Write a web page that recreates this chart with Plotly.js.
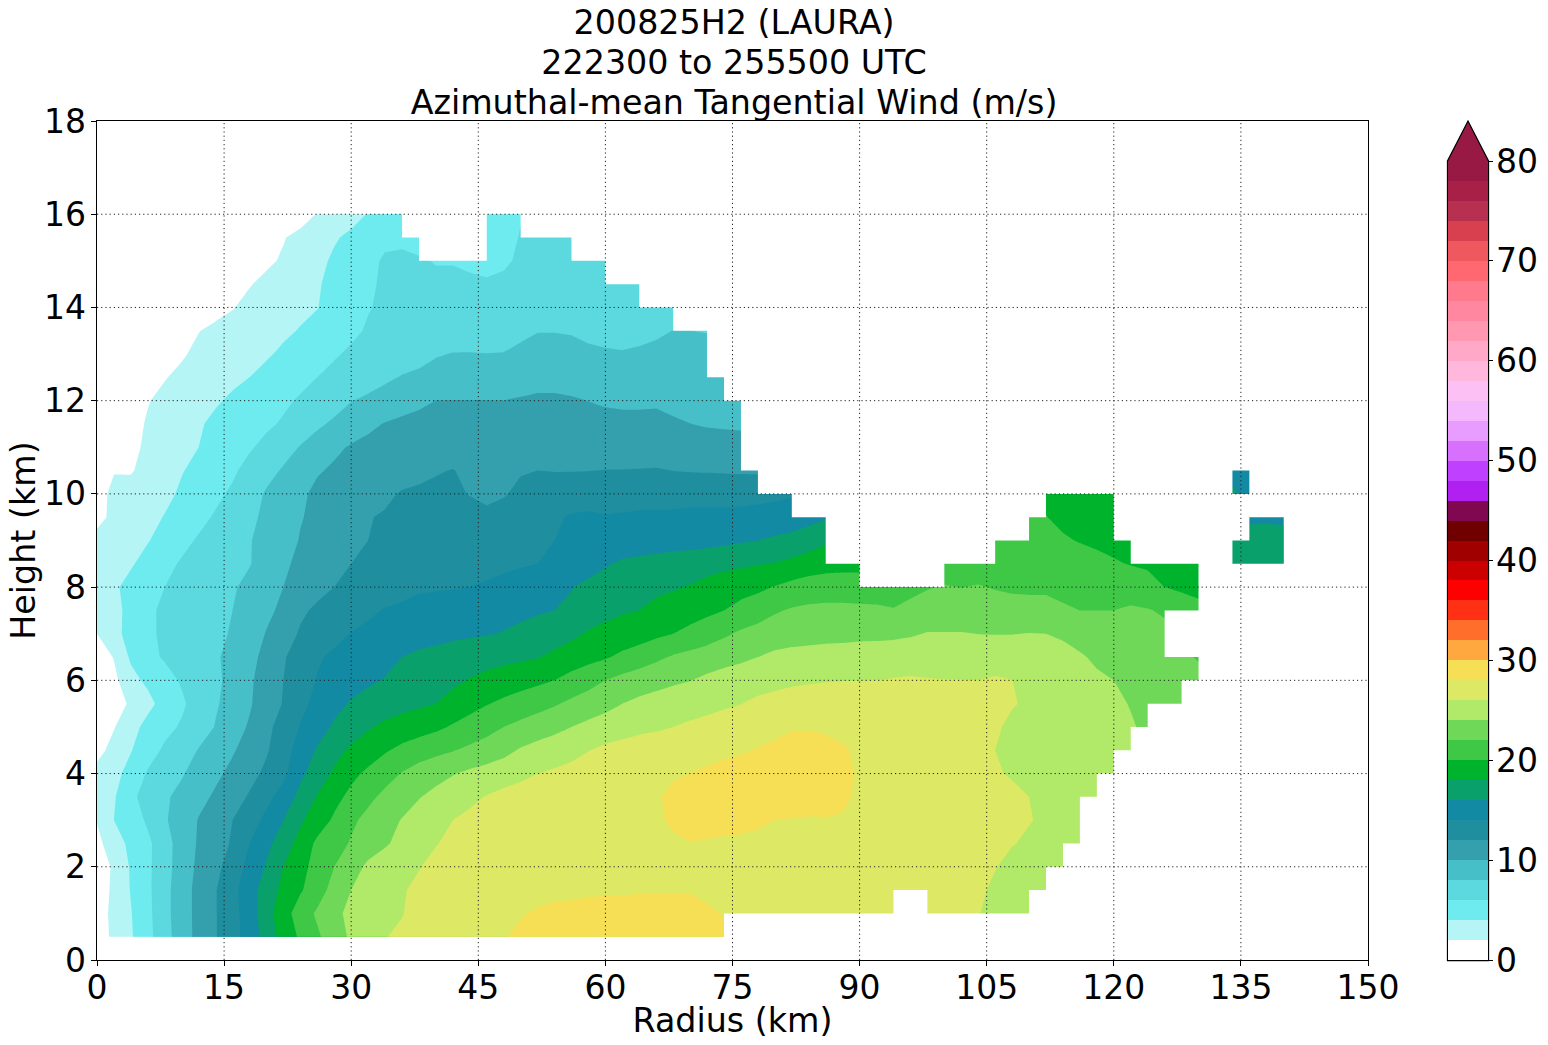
<!DOCTYPE html>
<html><head><meta charset="utf-8">
<script src="https://cdn.plot.ly/plotly-3.0.1.min.js"></script>
<style>html,body{margin:0;padding:0;background:#fff}</style></head>
<body><div id="chart" style="width:1548px;height:1045px"></div>
<script>
const _ = null;
const radius = [0,2,4,6,8,10,12,14,16,18,20,22,24,26,28,30,32,34,36,38,40,42,44,46,48,50,52,54,56,58,60,62,64,66,68,70,72,74,76,78,80,82,84,86,88,90,92,94,96,98,100,102,104,106,108,110,112,114,116,118,120,122,124,126,128,130,132,134,136,138,140];
const height = [0.5,1,1.5,2,2.5,3,3.5,4,4.5,5,5.5,6,6.5,7,7.5,8,8.5,9,9.5,10,10.5,11,11.5,12,12.5,13,13.5,14,14.5,15,15.5,16];
const h05=[.5,2.6,3.8,5.4,7.3,9,10.6,11.9,13.3,14.8,16.8,18.8,20.3,21.7,23.1,24.3,25.1,25.96,26.2,26.4,26.6,26.9,27.2,27.6,27.9,28.3,28.6,28.7,28.8,28.9,29,29.1,29.1,29.1,29,28.9,28.8,28.5];
const h10=[.5,2.8,3.9,5.5,7.4,9.1,10.6,11.9,13.3,15,17.2,19.2,20.9,22.3,23.5,24.5,25,25.5,25.95,26.4,26.7,27,27.3,27.5,27.7,27.9,28.15,28.3,28.4,28.5,28.6,28.6,28.7,28.7,28.7,28.6,28.3,27.9,27.7,27.6,27.5,27.5,27.5,27.5,27.5,27.4,27.4,27.3,_,27.2,27.1,26.9,26.1,25.4,25.1,24.9];
const h15=[.6,2.5,4.1,5.6,7.4,9.1,10.6,11.9,13.4,15.2,16.9,18.5,19.8,21,22.8,24,24.8,25.2,25.8,26.5,26.8,27,27.2,27.3,27.4,27.5,27.6,27.7,27.7,27.8,27.8,27.8,27.9,27.9,27.9,27.9,27.6,27.3,27.2,27.2,27.3,27.3,27.3,27.3,27.3,27.3,27.2,27.1,27.1,27,26.9,26.7,26.4,25.6,25.2,24.9,24.6];
const h20=[.8,2.3,4.2,5.6,7.3,8.9,10.4,11.5,12.9,14.6,16.2,18,19.4,20.7,22,23.1,24.4,24.9,25.4,25.9,26.6,27,27.2,27.3,27.4,27.4,27.5,27.5,27.5,27.6,27.6,27.6,27.7,27.7,27.7,27.7,27.6,27.5,27.5,27.5,27.5,27.5,27.5,27.5,27.5,27.4,27.4,27.4,27.3,27.3,27.2,27,26.7,26.1,25.4,25.1,24.8,24.5];
const h25=[1.5,3,4.5,5.6,7.2,8.9,10.2,11.2,12.2,14,15.5,17,18.7,20.4,21.1,22.2,23,23.8,24.5,25.2,25.9,26.5,26.8,27,27.1,27.2,27.3,27.4,27.5,27.5,27.6,27.6,27.7,27.8,27.9,27.98,27.9,27.8,27.8,27.7,27.7,27.7,27.7,27.7,27.6,27.6,27.5,27.5,27.4,27.4,27.3,27.1,26.9,26.7,26.1,25.7,25.4,25.2,25];
const h30=[2.1,4,5,6.3,7.8,8.9,10.1,11,12,13.1,14.5,16,17.7,19,20.3,21.6,22.6,23.3,24.1,24.8,25.4,26,26.4,26.7,27,27.1,27.2,27.3,27.4,27.5,27.6,27.7,27.8,27.9,28.1,28.4,28.4,28.4,28.3,28.2,27.98,27.95,27.9,27.95,27.9,27.8,27.7,27.7,27.6,27.5,27.4,27.3,27.1,26.9,26.7,26.1,25.7,25.4,25.2];
const h35=[2.8,3.8,5.6,6.7,7.7,8.6,9.4,10.3,11.2,12.2,13.4,14.8,16.6,18.1,19.4,20.5,21.5,22.5,23.1,23.9,24.5,25,25.6,26.1,26.5,26.7,27,27.2,27.4,27.5,27.6,27.7,27.8,27.9,28.2,28.5,28.6,28.6,28.6,28.6,28.6,28.6,28.5,28.4,28.2,27.8,27.6,27.5,27.4,27.3,27.2,27.1,27,26.8,26.5,26,25.7,25.5,25.3,25.1];
const h40=[2.6,3.4,4.7,6.2,7,7.8,8.9,9.6,10.5,11.4,12.4,13.5,15.6,16.9,18.3,19.5,20.4,21.2,22.1,22.9,23.4,23.9,24.4,24.8,25.2,25.6,26,26.3,26.6,26.9,27.1,27.3,27.5,27.7,27.9,28,28.2,28.5,28.6,28.7,28.7,28.8,28.8,28.7,28.4,27.8,27.5,27.3,27.2,27.1,26.9,26.7,26.4,26.2,25.8,25.4,25.2,25,24.9,24.7,24.6];
const h45=[1.4,2.6,3.9,5.2,6.3,7.1,8.1,9,9.8,10.8,11.8,13.2,14.8,16.2,17.4,18.3,19,19.8,20.5,21,21.5,21.9,22.4,22.8,23.4,24.2,24.7,25,25.4,25.95,26.4,26.7,27,27.2,27.4,27.5,27.6,27.7,27.85,28.1,28.3,28.5,28.5,28.4,28.2,27.7,27.4,27.3,27.1,27,26.9,26.7,26.4,26,25.6,25.3,25.2,25.1,25,24.9,24.6,24.3];
const h50=[1,1.9,3.2,4.7,5.5,6.2,7.1,8.1,9.2,10.2,11.5,12.8,14.1,15.1,16.3,17,17.8,18.4,18.8,19.2,19.6,20.2,20.8,21.4,22,22.5,23,23.5,24,24.5,24.9,25.2,25.5,25.7,26,26.3,26.6,26.9,27.2,27.4,27.6,27.9,27.9,27.8,27.5,27.3,27.2,27.1,27,26.9,26.8,26.7,26.5,26.2,25.7,25.4,25.3,25.2,25,24.8,24.5,24.2,23.6];
const h55=[.6,1.4,2.2,3.4,4.8,5.7,6.8,7.8,8.7,9.8,11,12.1,13.5,14.5,15.4,16.2,16.7,17.1,17.4,17.7,18,18.7,19.3,19.9,20.4,20.9,21.3,21.8,22.4,22.9,23.4,24,24.4,24.7,25,25.2,25.4,25.7,25.97,26.3,26.6,26.8,27,27.2,27.4,27.5,27.5,27.4,27.3,27.2,27.1,27,26.8,26.6,26.1,25.8,25.6,25.5,25.3,25,24.4,23.9,23.4,23.2,23];
const h60=[.7,1.5,3.4,4.4,5.3,6.2,6.9,7.6,8.6,9.7,10.9,12,13,14.1,14.8,15.2,15.7,16.1,16.5,16.9,17.2,17.6,18.1,18.5,18.9,19.2,19.6,20,20.7,21.3,22,22.6,23.1,23.4,23.7,23.95,24.4,24.8,25.1,25.4,25.5,25.7,25.8,25.9,25.95,25.97,26,26.1,26.2,26.1,26.05,26.03,26,26.2,26.02,25.5,25.2,24.9,24.6,24.3,24,23.5,23.3,23,22.6,22.4];
const h65=[.9,2.1,4.3,5.5,6.2,6.7,7.2,7.8,8.5,9.5,10.5,11.8,13,13.8,14.3,14.7,15,15.5,16,16.4,16.6,16.9,17.1,17.3,17.5,17.7,17.9,18.4,18.9,19.4,19.8,20.4,20.9,21.6,22.2,22.6,23,23.3,23.6,24,24.4,24.6,24.7,24.8,24.9,25,25.1,25.1,25.1,25.1,25.1,25.1,25.1,25.1,25.1,25.1,25,24.7,24.2,23.7,23.3,23,22.8,22.6,22.2,21.9];
const h70=[2,3.4,4.7,5.6,6.4,6.8,7.1,7.5,8.2,9.1,10.1,11.1,12.2,12.9,13.5,14.05,14.4,14.7,15,15.2,15.4,15.6,15.75,15.9,16.1,16.4,16.8,17.2,17.6,18.2,18.6,18.9,19.2,19.6,20,20.5,21,21.7,22.3,22.7,23,23.2,23.3,23.4,23.4,23.5,23.5,23.6,23.8,24.1,24.1,24.1,23.98,23.95,23.95,24.05,24,23.7,23.3,23,22.8,22.7,22.6,22.4];
const h75=[2.4,3.5,4.5,5.5,6.5,6.9,7.2,7.5,8,8.8,9.6,10.4,11.7,12.3,12.8,13.2,13.7,14.1,14.3,14.5,14.7,14.85,15,15.2,15.4,15.6,15.8,16,16.5,17,17.4,17.8,18,18.5,18.9,19.2,19.6,20,20.6,21.1,21.8,22.2,22.4,22.5,22.5,22.4,22.3,22.1,22.4,22.7,22.8,22.7,22.8,22.7,22.5,22.4,22.4,22.2,22,22,22,22.2,22.1,21.8,21,20.6];
const h80=[2.5,3.7,4.6,5.4,6,6.6,7,7.4,7.8,8.5,9.2,10,10.7,11.5,12,12.5,12.9,13.2,13.5,13.8,13.85,13.9,14,14.2,14.6,14.9,15.2,15.5,15.9,16.6,17,17.2,17.4,17.6,17.8,18.1,18.6,19,19.3,19.6,20.1,20.6,20.9,21,21,21,21.1,21.2,21.6,21.9,22.1,21.97,22.1,21.9,21.8,21.8,21.8,21.6,21.4,21.3,21.3,21.3,20.8,20,19.7,19.4];
const h85=[2.6,3.2,3.8,4.7,5.5,6.2,6.6,7,7.5,7.9,8.8,9.7,10.4,10.9,11.5,12,12.4,12.7,12.9,13,13.1,13.2,13.3,13.5,13.6,13.8,14,14.3,14.6,15,15.8,16.3,16.5,16.7,16.9,17,17.2,17.5,17.7,17.9,18.1,18.5,19,19.3,19.4,19.4,_,_,_,_,21.1,21,21.2,21,21,21,21,21,20.8,20.6,20.2,19.9,19.7,19,18.8,18.6,_,17,17,17,17];
const h90=[2.5,3,3.6,3.9,4.7,5.5,6.2,6.7,7.2,7.9,8.6,9.3,10.1,10.6,11.1,11.5,12,12.2,12.3,12.5,12.6,12.7,12.8,12.9,13,13.1,13.5,14,14.4,14.7,14.8,14.9,15,15.1,15.2,15.3,15.4,15.6,15.8,16,16.3,16.6,17,17.7,_,_,_,_,_,_,_,_,_,20.8,20.7,20.5,20.4,20.2,19.9,19.6,19.4,19.2,_,_,_,_,_,17,17.1,17.2,17];
const h95=[1.5,2.4,2.9,3.4,4.1,4.9,5.5,6.2,6.8,7.6,8.4,9.1,9.9,10.4,10.9,11.5,11.95,12.1,12.2,12.3,12.4,12.6,12.5,12.3,12.5,12.9,13.2,13.7,14.2,14.3,14.1,14.2,14.3,14.3,14.35,14.4,14.4,14.4,14.5,14.6,14.8,15,15.4,15.8,_,_,_,_,_,_,_,_,_,_,_,20.5,20.05,19.6,19.3,19.2,19,_,_,_,_,_,_,_,15.5,15.5,15.5];
const h100=[1.2,2.5,2.7,2.9,3.5,4.3,4.9,5.6,6.3,7.2,8.2,9,9.6,10.5,10.9,11.2,11.5,11.8,12.1,12.2,12.3,12.2,11.95,11.7,11.9,12.3,12.6,12.8,13,13.1,13.2,13.2,13.3,13.3,13.3,13.4,13.4,13.4,13.4,13.5,13.6,13.8,_,_,_,_,_,_,_,_,_,_,_,_,_,_,19.5,19.3,19.2,19.2,19,_,_,_,_,_,_,16.5,15];
const h105=[.5,1.9,1.85,2.6,3.2,3.9,4.5,5.1,5.7,6.6,7.4,8.2,9.1,9.8,10.3,10.6,10.9,11.2,11.5,11.7,11.9,12.05,11.7,11.3,11.5,11.9,12,11.95,11.95,11.97,12.03,12.03,12.05,12.08,11.98,11.9,11.85,11.8,11.75,11.7,_,_,_,_,_,_,_,_,_,_,_,_,_,_,_,_,_,_,_,_,_,_,_,_,_,_,_,15,14.8];
const h110=[.2,.8,1.6,2.3,2.9,3.4,4,4.6,5.1,5.8,6.5,7.3,8.1,8.8,9.6,10.2,10.5,10.8,11,11.2,11.3,11.35,11,10.8,10.9,11.2,11.3,11.4,11.4,11.4,11.4,11.4,11.4,11.4,11.3,11.2,11.1,11,11];
const h115=[.1,.5,1.3,2.2,2.8,3.2,3.8,4.4,4.9,5.3,5.7,6.2,6.9,7.7,8.3,8.9,9.6,10.1,10.4,10.6,10.7,10.8,10.7,10.6,10.6,10.7,10.8,10.8,10.7,10.6,10.5,10.4,10.4,10.4,10.2,10.02,9.8,9.7,9.6];
const h120=[0,.3,.9,1.9,2.5,2.9,3.4,3.8,4.3,4.8,5.2,5.7,6.2,6.7,7.3,7.95,8.3,8.7,9.2,9.6,10.02,10.04,10.04,10.03,10.03,10.2,10.35,10.35,10.2,9.98,9.8,9.75,9.75,9.8,9.6,9.3,9.1,9,8.9];
const h125=[0,.1,.5,1.2,1.9,2.4,2.8,3.2,3.6,4,4.5,4.9,5.5,6,6.5,6.9,7.3,7.7,8.1,8.3,8.5,8.6,8.7,8.7,8.7,9,9.3,9.3,9.2,9,8.8,8.8,8.8,8.8,8.9,8.8,8.7,8.6];
const h130=[0,0,.2,.7,1.3,1.8,2.4,2.8,3.1,3.5,3.8,4.3,4.7,5.2,5.8,6.3,6.7,7,7.2,7.5,7.9,8.05,8.05,8.02,8.05,8.3,8.5,8.5,8.4,8.25,8.15,8.1,8.2,8.3,8.4,8.4,8.4];
const h135=[0,0,0,.2,.7,1.4,1.95,2.4,2.7,3,3.4,3.7,4.1,4.5,4.9,5.6,6.2,6.5,6.8,7,7.1,7.3,7.4,7.4,7.4,7.7,7.95,7.95,7.9,7.7,7.6,7.5,7.6,7.8,8.02,8,7.95];
const h140=[0,0,0,0,.1,.5,.9,1.4,1.9,2.5,2.9,3.2,3.6,3.95,4.6,5.2,5.9,6.3,6.5,6.7,6.8,6.9,6.9,6.9,7,7.1,7.1,7.1,7.1,7,7,7,7,7,7];
const h145=[0,0,0,0,0,0,.3,.8,1.2,1.9,2.4,2.9,3.3,3.9,4.3,4.9,5.7,6.3,6.6,6.5,6.4,6.4,6.3,6.2,6.4,6.5,6.5,6.5,6.5,6.5,6.5,6.4,6.4];
const h150=[0,0,0,0,0,0,0,.2,.6,1.1,1.7,2.2,2.8,3.5,4.3,4.8,5.4,6.3,6.4,6.2,5.9,5.9,5.7,5.5,5.7,6.3,6.4,6.4,6.4,6.3,6.3];
const h155=[0,0,0,0,0,0,0,0,0,.3,1,1.9,2.5,3.2,3.8,4.4,5,5.5,5.6,5.3,_,_,_,4.7,4.9,6.2,6.5,6.5,6.5];
const h160=[0,0,0,0,0,0,0,0,0,0,0,.4,1.2,2.1,2.7,3.3,4.1,4.6,4.9,_,_,_,_,4.6,4.8,5.8];
const windRows=[h05,h10,h15,h20,h25,h30,h35,h40,h45,h50,h55,h60,h65,h70,h75,h80,h85,h90,h95,h100,h105,h110,h115,h120,h125,h130,h135,h140,h145,h150,h155,h160];
const levelColors=['#ffffff','#b6f5f6','#6eebef','#5bd9df','#47bfc9','#35a0ad','#1f8e9f','#128aa3','#09a06c','#00b32d','#3ec846','#70d858','#b0ea68','#dde864','#f7df55','#ffa840','#ff6e2a','#ff3014','#ff0000','#cc0000','#a00000','#700000','#800850','#b020f0','#c040ff','#d870ff','#e89cff','#f4b8fc','#fcc0f4','#ffb8dc','#ffa8c8','#ff98b0','#ff88a0','#ff7a8c','#ff6870','#f05860','#d84050','#b83050','#a82048','#981a44'];
const xTicks=[0,15,30,45,60,75,90,105,120,135,150];
const yTicks=[0,2,4,6,8,10,12,14,16,18];
const barTicks=[0,10,20,30,40,50,60,70,80];
const titleLines=['200825H2 (LAURA)','222300 to 255500 UTC','Azimuthal-mean Tangential Wind (m/s)'];

const nCols=radius.length;
const z=windRows.map(r=>{const a=r.slice();while(a.length<nCols)a.push(null);return a;});
// Flat colour steps: the band above level L is looked up at scale value L
const nc=levelColors.length;
const colorscale=[[0,levelColors[0]]];
levelColors.forEach((c,i)=>{colorscale.push([(i+.25)/nc,c]);colorscale.push([(i+.75)/nc,c]);});
colorscale.push([1,levelColors[nc-1]]);
// Any grid cell touching a missing point stays blank: runs of such cells, row by row
const maskX=[],maskY=[];
const padR=.2,padH=.03;
for(let j=0;j<height.length-1;j++){
  let i=0;
  const gap=k=>[z[j][k],z[j][k+1],z[j+1][k],z[j+1][k+1]].some(v=>v===null);
  while(i<nCols-1){
    if(!gap(i)){i++;continue;}
    let e=i;while(e+1<nCols-1&&gap(e+1))e++;
    const x0=radius[i],x1=radius[e+1]+(e+1===nCols-1?padR:0);
    const y0=height[j]-(j===0?padH:0),y1=height[j+1]+(j===height.length-2?padH:0);
    maskX.push(x0,x1,x1,x0,x0,null);
    maskY.push(y0,y0,y1,y1,y0,null);
    i=e+1;
  }
}

const font={family:'DejaVu Sans',color:'#000'};
const W=1548,H=1045,L=97,R=1368,T=121,B=960;
const dotted={color:'#222',width:1,dash:'1.2px,3px'};
const shapes=[];
xTicks.slice(1,-1).forEach(v=>shapes.push({type:'line',layer:'above',xref:'x',yref:'paper',x0:v,x1:v,y0:0,y1:1,line:dotted}));
yTicks.slice(1,-1).forEach(v=>shapes.push({type:'line',layer:'above',xref:'paper',yref:'y',x0:0,x1:1,y0:v,y1:v,line:dotted}));
const px=x=>(x-L)/(R-L), py=y=>(B-y)/(B-T);
// Colour bar frame with its over-range arrow, open across the top of the bar
shapes.push({type:'path',layer:'above',xref:'paper',yref:'paper',
  path:`M ${px(1447.5)} ${py(960.5)} L ${px(1447.5)} ${py(161)} L ${px(1468)} ${py(121)} L ${px(1488.5)} ${py(161)} L ${px(1488.5)} ${py(960.5)} Z`,
  fillcolor:levelColors[nc-1],line:{color:'#000',width:1.25}});

const traces=[{type:'contour',x:radius,y:height,z:z,connectgaps:true,autocontour:false,
  contours:{coloring:'fill',start:0,end:80,size:2,showlines:false},line:{width:0,smoothing:0},
  colorscale:colorscale,zauto:false,zmin:0,zmax:80,hoverinfo:'skip',
  colorbar:{x:px(1448),xanchor:'left',xpad:0,y:0,yanchor:'bottom',ypad:0,
    lenmode:'fraction',len:(B-161)/(B-T),thicknessmode:'pixels',thickness:40,outlinewidth:0,borderwidth:0,
    tickmode:'array',tickvals:barTicks,ticks:'outside',ticklen:5,tickwidth:1,tickcolor:'#000',
    tickfont:{...font,size:33}}},
 {type:'scatter',mode:'lines',x:maskX,y:maskY,fill:'toself',fillcolor:'#ffffff',line:{width:0,color:'#ffffff'},hoverinfo:'skip',showlegend:false}];

const axis={showline:true,mirror:true,linecolor:'#000',linewidth:1.4,ticks:'outside',ticklen:5,tickwidth:1,tickcolor:'#000',
  showgrid:false,zeroline:false,tickfont:{...font,size:33},tickmode:'array'};
const layout={width:W,height:H,autosize:false,paper_bgcolor:'#fff',plot_bgcolor:'#fff',font:font,showlegend:false,
  margin:{l:L,r:W-R,t:T,b:H-B,pad:0,autoexpand:false},
  title:{text:titleLines.join('<br>'),font:{...font,size:33.3},x:(L+R)/2/W+0.001,xanchor:'center',xref:'container',y:0.9673,yanchor:'top',yref:'container'},
  xaxis:{...axis,range:[0,150],tickvals:xTicks,ticklabelstandoff:-7,title:{text:'Radius (km)',font:{...font,size:33.3},standoff:3}},
  yaxis:{...axis,range:[0,18],tickvals:yTicks,ticklabelstandoff:-2,title:{text:'Height (km)',font:{...font,size:33.3},standoff:0}},
  shapes:shapes};
Plotly.newPlot('chart',traces,layout,{staticPlot:true,displayModeBar:false}).then(gd=>{
  // Tighter title leading than Plotly's default; small nudges of the labels
  gd.querySelectorAll('.gtitle tspan.line').forEach((t,i)=>t.setAttribute('dy',(i*1.2)+'em'));
  const xt=gd.querySelector('.g-xtitle'); if(xt) xt.setAttribute('transform','translate(0,-1)');
  const yt=gd.querySelector('.g-ytitle'); if(yt) yt.setAttribute('transform','translate(2,0)');
  gd.querySelectorAll('.colorbar .ytick text, .colorbar .ticks text, .colorbar text').forEach(t=>{
    const x=t.getAttribute('x'); if(x!==null) t.setAttribute('x',(+x-3));
  });
});
</script></body></html>
